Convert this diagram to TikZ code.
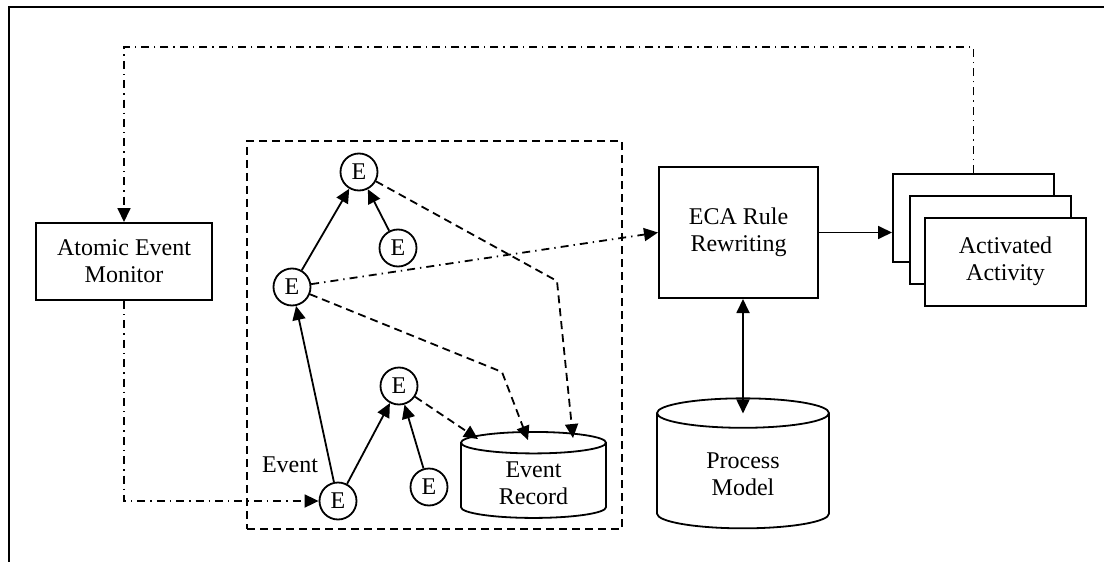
\documentclass[tikz,border=0pt]{standalone}
\usepackage{fontspec}
\setmainfont{Liberation Serif}
\usetikzlibrary{shapes.geometric,arrows.meta,calc}

\begin{document}
\begin{tikzpicture}[
  x=0.5pt, y=-0.5pt,
  font=\fontsize{12}{13.5}\selectfont,
  box/.style={draw, line width=1pt, align=center, fill=white},
  ev/.style={draw, circle, line width=0.9pt, inner sep=0pt, minimum size=18.5pt},
  store/.style={draw, cylinder, shape border rotate=90, line width=0.9pt, align=center},
  arr/.style={-{Triangle[length=7pt,width=6.5pt]}, line width=0.9pt},
  dblarr/.style={{Triangle[length=7pt,width=6.5pt]}-{Triangle[length=7pt,width=6.5pt]}, line width=0.9pt},
  dashdot/.style={dash pattern=on 4pt off 2.5pt on 0.7pt off 2.5pt},
  dashline/.style={dash pattern=on 4pt off 2.5pt}
]
\useasboundingbox (0,0) rectangle (1104,562);
\draw[line width=1.2pt] (9,600) |- (1130,7);

% event group
\node[draw, dashline, line width=0.9pt, minimum width=187.5pt, minimum height=194pt] (grp) at (434.5,335) {};

\node[box, minimum width=88pt, minimum height=38.5pt] (aem) at (124,261.5) {Atomic Event\\Monitor};
\node[box, minimum width=79.5pt, minimum height=65.5pt] (eca) at (738.5,232.5) {ECA Rule\\Rewriting};

\node[box, minimum width=80.5pt, minimum height=44pt] (act3) at (973.5,218) {};
\node[box, minimum width=80.5pt, minimum height=44pt] (act2) at (990,240) {};
\node[box, minimum width=80.5pt, minimum height=44pt] (act) at (1005.5,261.5) {Activated\\Activity};

\node[ev] (e1) at (359,172) {E};
\node[ev] (e2) at (398,248) {E};
\node[ev] (e3) at (292,287) {E};
\node[ev] (e4) at (399,386) {E};
\node[ev] (e5) at (338,501) {E};
\node[ev] (e6) at (429,487) {E};
\node (evlbl) at (290,465) {Event};

\node[store, aspect=0.26, minimum width=72.5pt, minimum height=43pt] (er) at (533.5,483) {Event\\Record};
\node[store, aspect=0.34, minimum width=86pt, minimum height=65pt] (pm) at (743,474) {Process\\Model};

\coordinate (k1) at (557,281);
\coordinate (k2) at (502,372);
\coordinate (top) at (0,47);
\coordinate (pmtop) at ($(pm.north)+(0,16)$);

\draw[arr] (e3) -- (e1);
\draw[arr] (e2) -- (e1);
\draw[arr] (e5) -- (e3);
\draw[arr] (e5) -- (e4);
\draw[arr] (e6) -- (e4);

\draw[arr, dashline] (e1) -- (k1) -- ($(er.north)+(39.5,7)$);
\draw[arr, dashline] (e3) -- (k2) -- ($(er.north)+(-5.5,9)$);
\draw[arr, dashline] (e4) -- ($(er.north)+(-55.5,8)$);

\draw[arr, dashdot] (e3) -- (eca.west);
\draw[arr, dashdot] (aem.south) |- (e5);
\draw[arr, dashdot] (act3.north) |- (top -| aem.north) -- (aem.north);

\draw[arr] (eca.east) -- (eca.east -| act3.west);
\draw[dblarr] (eca.south -| pm.north) -- (pmtop);
\end{tikzpicture}
\end{document}
